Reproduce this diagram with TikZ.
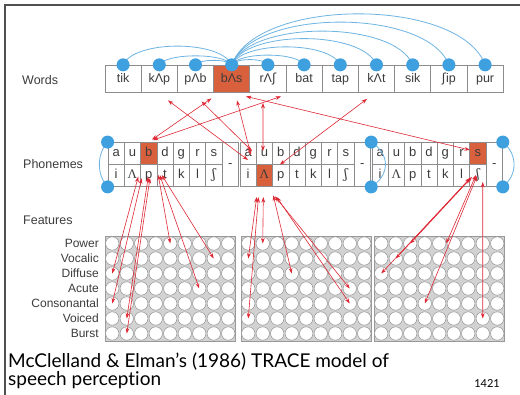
\documentclass[tikz,border=0pt]{standalone}
\usepackage{fontspec}
\setmainfont{Liberation Sans}
\newfontfamily\ipasansfam{DejaVu Sans}
\newfontfamily\ipaseriffam{DejaVu Serif}
\newfontfamily\romanfam{Liberation Serif}
\newfontfamily\capfam{Lato}[Ligatures=NoCommon]
\usetikzlibrary{arrows.meta,calc}
\newcommand\shsans{{\ipasansfam ʃ}}
\newcommand\shser{{\ipaseriffam ʃ}}
\newcommand\Lser{{\romanfam Λ}}
\definecolor{hl}{RGB}{217,96,60}
\definecolor{dotblue}{RGB}{62,160,222}
\definecolor{arcblue}{RGB}{110,180,226}
\definecolor{arrred}{RGB}{222,40,52}
\definecolor{boxgray}{RGB}{140,140,140}
\definecolor{txtgray}{RGB}{60,60,60}
\definecolor{framegray}{RGB}{80,80,80}
\begin{document}
\begin{tikzpicture}[x=1pt,y=-1pt,
  wordbox/.style={draw=boxgray, line width=0.8pt, minimum width=36.2pt, minimum height=27.5pt, inner sep=0pt, text height=9.2pt, text depth=2.8pt, font=\fontsize{12.5}{14}\selectfont, text=txtgray},
  phbox/.style={draw=boxgray, line width=0.8pt, minimum width=16.3pt, minimum height=22pt, inner sep=0pt, text height=9.5pt, text depth=3pt, font=\fontsize{13}{14}\selectfont, text=txtgray},
  bluedot/.style={circle, fill=dotblue, minimum size=13pt, inner sep=0pt},
  bluearc/.style={draw=arcblue, line width=0.8pt},
  redarr/.style={draw=arrred, line width=0.6pt, {Stealth[length=5.5pt,width=3.8pt]}-{Stealth[length=5.5pt,width=3.8pt]}},
  featcircle/.style={circle, draw=gray!85, fill=white, line width=0.5pt, minimum size=13.4pt, inner sep=0pt},
  gridframe/.style={draw=gray!80, fill=gray!35, line width=0.7pt, minimum width=130.5pt, minimum height=105pt, inner sep=0pt},
  layerlabel/.style={font=\fontsize{12.5}{14}\selectfont, text=txtgray, anchor=west, inner sep=0pt},
  featlabel/.style={font=\fontsize{12}{14}\selectfont, text=txtgray, anchor=east, inner sep=0pt},
  captext/.style={font=\capfam\fontsize{19}{19}\selectfont, anchor=base west, inner sep=0pt, text=black}]
\useasboundingbox (0,0) rectangle (520,395);
\fill[white] (0,0) rectangle (520,395);
\draw[framegray, line width=1.2pt] (5,395) -- (5,5) -- (520,5);

% layer labels
\node[layerlabel] (lw) at (22,80) {Words};
\node[layerlabel] (lp) at (23,164) {Phonemes};
\node[layerlabel] (lf) at (23,220) {Features};

% words
\node[wordbox] (w1) at (123.1,79) {tik};
\node[wordbox] (w2) at (159.3,79) {kΛp};
\node[wordbox] (w3) at (195.5,79) {pΛb};
\node[wordbox, fill=hl] (w4) at (231.7,79) {bΛs};
\node[wordbox] (w5) at (267.9,79) {rΛ\shsans};
\node[wordbox] (w6) at (304.1,79) {bat};
\node[wordbox] (w7) at (340.3,79) {tap};
\node[wordbox] (w8) at (376.5,79) {kΛt};
\node[wordbox] (w9) at (412.7,79) {sik};
\node[wordbox] (w10) at (448.9,79) {\shsans ip};
\node[wordbox] (w11) at (485.1,79) {pur};

% word arcs
\draw[bluearc] (w4.north) .. controls +(-11,-25) and +(11,-25) .. (w1.north);
\draw[bluearc] (w4.north) .. controls +(-7,-12) and +(7,-12) .. (w2.north);
\draw[bluearc] (w4.north) .. controls +(-4,-6) and +(4,-6) .. (w3.north);
\draw[bluearc] (w4.north) .. controls +(4,-7) and +(-4,-7) .. (w5.north);
\draw[bluearc] (w4.north) .. controls +(7,-13) and +(-7,-13) .. (w6.north);
\draw[bluearc] (w4.north) .. controls +(11,-24) and +(-11,-24) .. (w7.north);
\draw[bluearc] (w4.north) .. controls +(14,-35) and +(-14,-35) .. (w8.north);
\draw[bluearc] (w4.north) .. controls +(18,-45) and +(-18,-45) .. (w9.north);
\draw[bluearc] (w4.north) .. controls +(22,-57) and +(-22,-57) .. (w10.north);
\draw[bluearc] (w4.north) .. controls +(25,-68) and +(-25,-68) .. (w11.north);
\foreach \i in {1,...,11} \node[bluedot] (d\i) at (w\i.north) {};

% phoneme banks
\foreach \bk/\bx in {1/108, 2/240, 3/372} {
  \foreach \l [count=\cc] in {a,u,b,d,g,r,s} {
    \ifnum\bk\cc=13 \def\fc{hl}\else\ifnum\bk\cc=37 \def\fc{hl}\else\def\fc{white}\fi\fi
    \node[phbox, fill=\fc] (p\bk-1-\cc) at (\bx+16.3*\cc-8.15,153.5) {\l};
  }
  \foreach \l [count=\cc] in {i,\Lser,p,t,k,l,\shser} {
    \ifnum\bk\cc=22 \def\fc{hl}\else\def\fc{white}\fi
    \node[phbox, fill=\fc] (p\bk-2-\cc) at (\bx+16.3*\cc-8.15,175.5) {\l};
  }
  \node[phbox, fill=white, minimum height=44pt] (p\bk-dash) at (\bx+16.3*8-8.15,164.5) {-};
}
\coordinate (b23t) at ($(p2-dash.north east)!0.5!(p3-1-1.north west)$);
\coordinate (b23b) at ($(p2-dash.south east)!0.5!(p3-2-1.south west)$);
\draw[bluearc] (p1-1-1.north west) .. controls +(-11,12) and +(-11,-12) .. (p1-2-1.south west);
\draw[bluearc] (b23t) .. controls +(19,12) and +(19,-12) .. (b23b);
\draw[bluearc] (p3-dash.north east) .. controls +(15,12) and +(15,-12) .. (p3-dash.south east);
\node[bluedot] (pd1) at (p1-1-1.north west) {};
\node[bluedot] (pd2) at (p1-2-1.south west) {};
\node[bluedot] (pd3) at (b23t) {};
\node[bluedot] (pd4) at (b23b) {};
\node[bluedot] (pd5) at (p3-dash.north east) {};
\node[bluedot] (pd6) at (p3-dash.south east) {};

% feature labels
\foreach \t [count=\r] in {Power,Vocalic,Diffuse,Acute,Consonantal,Voiced,Burst}
  \node[featlabel] (fl\r) at (99,228.5+15*\r) {\t};

% feature grids
\foreach \g/\gx in {1/105, 2/241, 3/374} {
  \node[gridframe] (grid\g) at (\gx+65.25,288.5) {};
  \foreach \r in {1,...,7} \foreach \cc in {1,...,9}
    \node[featcircle] (f\g-\r-\cc) at (\gx+14.5*\cc-7.25,228.5+15*\r) {};
}

% word <-> phoneme connections
\draw[redarr] ($(w2.south)+(8.7,7.25)$) -- ($(p2-2-2.center)+(-16.5,-15.5)$);
\draw[redarr] ($(w3.south)+(6,8.25)$) -- ($(p2-2-2.center)+(-12.5,-24.5)$);
\draw[redarr] ($(w3.south)+(16,5.25)$) -- ($(p1-1-3.north)+(3.25,-2.5)$);
\draw[redarr] ($(w4.south)+(5.3,7.25)$) -- ($(p2-2-2.center)+(-13.5,-20.5)$);
\draw[redarr] ($(w4.south)+(14.3,3.25)$) -- ($(p3-1-7.center)+(-8,-3.5)$);
\draw[redarr] ($(w5.south)+(-4.9,9.75)$) -- ($(p2-2-2.center)+(-1.5,-24.5)$);
\draw[redarr] ($(w5.south)+(13.1,3.25)$) -- ($(p1-1-3.north)+(4.25,-2)$);
\draw[redarr] ($(w8.south)+(-9.5,5.75)$) -- ($(p2-2-2.center)+(15.5,-11)$);

% phoneme <-> feature connections, bank 1
\draw[redarr] ($(p1-2-3.center)+(-10.5,1.2)$) -- (f1-3-1.center);
\draw[redarr] ($(p1-2-3.center)+(-7,2.8)$) -- (f1-5-1.center);
\draw[redarr] ($(p1-2-3.center)+(-0.5,1.2)$) -- (f1-6-2.center);
\draw[redarr] ($(p1-2-3.center)+(1.25,2.5)$) -- (f1-7-2.center);
\draw[redarr] ($(p1-2-3.center)+(9.5,-0.5)$) -- (f1-1-5.center);
\draw[redarr] ($(p1-2-3.center)+(11,-0.5)$) -- (f1-4-7.center);
\draw[redarr] ($(p1-2-3.center)+(13,-0.5)$) -- (f1-2-8.center);
% bank 2
\draw[redarr] ($(p2-2-2.south)+(-7.75,10.2)$) -- (f2-2-1.center);
\draw[redarr] ($(p2-2-2.south)+(-6,10.2)$) -- (f2-6-1.center);
\draw[redarr] ($(p2-2-2.south)+(-1.15,10.2)$) -- (f2-1-2.center);
\draw[redarr] ($(p2-2-2.south)+(8.85,8.5)$) -- (f2-3-4.center);
\draw[redarr] ($(p2-2-2.south)+(10.5,9.5)$) -- (f2-4-8.center);
\draw[redarr] ($(p2-2-2.south)+(12.25,10.2)$) -- (f2-5-8.center);
% bank 3
\draw[redarr] ($(p3-2-7.center)+(-6,1.5)$) -- (f3-1-3.center);
\draw[redarr] ($(p3-2-7.center)+(-7,2)$) -- (f3-2-2.center);
\draw[redarr] ($(p3-2-7.center)+(-8,3)$) -- (f3-3-1.center);
\draw[redarr] ($(p3-2-7.center)+(-2,-0.5)$) -- (f3-1-5.east);
\draw[redarr] ($(p3-2-7.center)+(-1,0.5)$) -- (f3-5-4.center);
\draw[redarr] ($(p3-2-7.center)+(4.8,6.5)$) -- (f3-6-8.center);

% caption
\node[captext] (cap1) at (8,368) {McClelland \& Elman’s (1986) TRACE model of};
\node[captext] (cap2) at (8,385.5) {speech perception};
\node[font=\capfam\fontsize{11}{11}\selectfont, anchor=base east, inner sep=0pt] (pg) at (500,388) {1421};
\end{tikzpicture}
\end{document}
